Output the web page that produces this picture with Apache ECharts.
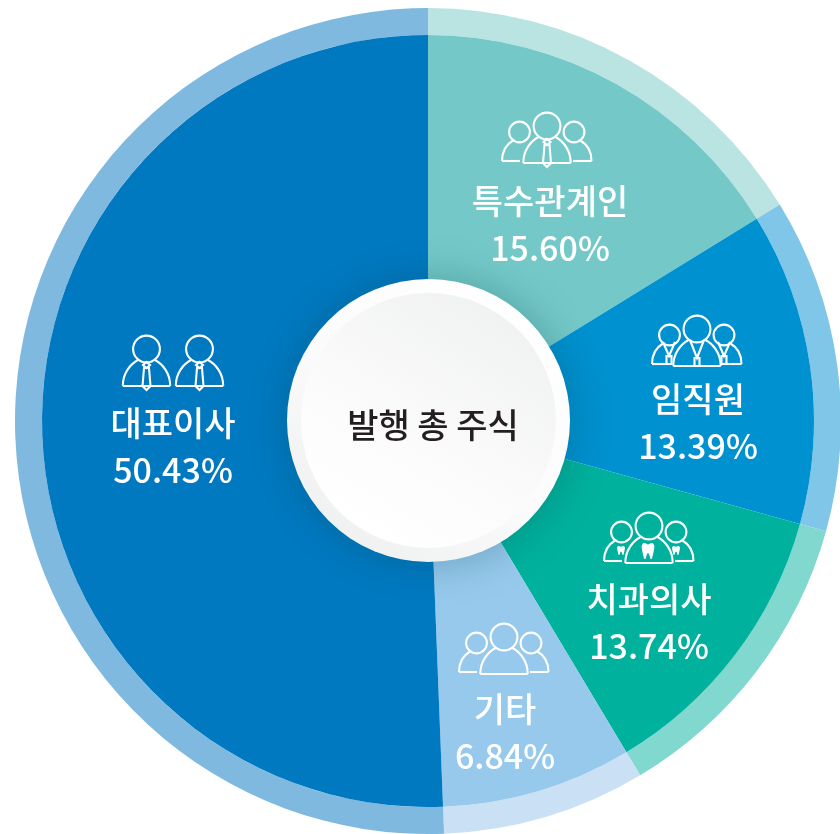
<!DOCTYPE html>
<html lang="ko">
<head>
<meta charset="utf-8">
<title>발행 총 주식</title>
<style>
  html, body { margin: 0; padding: 0; background: #fff; }
  #chart { width: 840px; height: 834px; }
</style>
</head>
<body>
<div id="chart"></div>
<script src="https://cdn.jsdelivr.net/npm/echarts@6/dist/echarts.min.js"></script>
<script>
const categories = ["특수관계인", "임직원", "치과의사", "기타", "대표이사"];
// printed figures
const percentLabels = ["15.60%", "13.39%", "13.74%", "6.84%", "50.43%"];
// slice sizes as the picture draws them, read off the boundary angles (not the printed figures)
const arcShares = [16.22, 13.08, 12.11, 7.97, 50.62];
const sliceColors = ["#74c9c8", "#0091d0", "#00b19d", "#96c9ec", "#0079c1"];
const ringColors = ["#b9e4e2", "#80c6e8", "#80d8ce", "#cae1f5", "#7fb9df"];
const iconKinds = ["tie3", "lanyard3", "tooth3", "plain3", "tie2"];

const FONT = '"Noto Sans CJK KR"';
const CX = 428, CY = 421;
// label centres and icon anchors (centre head) per slice
const labelSpots = [[550, 225], [698, 423], [649, 623], [505, 733], [173, 447]];
const iconSpots = [[547, 126], [697, 329], [649, 526], [504, 637], [173, 349]];
// tooth outline in a 0-1 box
const toothShape = [[0.12, 0], [0.3, 0.02], [0.5, 0.09], [0.7, 0.02], [0.88, 0], [1, 0.2], [0.93, 0.55], [0.8, 1], [0.68, 0.98], [0.58, 0.68], [0.5, 0.62], [0.42, 0.68], [0.32, 0.98], [0.2, 1], [0.07, 0.55], [0, 0.2]];

const line = { stroke: "#fff", fill: null, lineWidth: 2.1 };

function head(x, y, r) {
  return { type: "circle", z: 12, silent: true, shape: { cx: x, cy: y, r: r }, style: line };
}
function seg(x1, y1, x2, y2) {
  return { type: "line", z: 12, silent: true, shape: { x1, y1, x2, y2 }, style: line };
}
function curve(x1, y1, cx1, cy1, cx2, cy2, x2, y2) {
  return {
    type: "bezierCurve", z: 12, silent: true,
    shape: { x1, y1, cpx1: cx1, cpy1: cy1, cpx2: cx2, cpy2: cy2, x2, y2 },
    style: line
  };
}
function mainPerson(dx) {
  return [
    head(dx, 0, 13.4),
    curve(dx - 23.7, 37, dx - 23.7, 24, dx - 16, 15, dx - 8.5, 11),
    curve(dx + 23.7, 37, dx + 23.7, 24, dx + 16, 15, dx + 8.5, 11),
    seg(dx - 23.7, 37, dx + 23.7, 37)
  ];
}
function sidePeople() {
  return [
    head(-27.5, 6, 10.4),
    curve(-45, 35, -45, 25, -40, 18, -34, 14.5),
    seg(-45, 35, -27, 35),
    head(27, 6, 10.4),
    curve(44.5, 35, 44.5, 25, 39.5, 18, 33.5, 14.5),
    seg(26, 35, 44.5, 35)
  ];
}
function tie(dx) {
  return [
    { type: "polygon", z: 12, silent: true, shape: { points: [[dx, 13], [dx + 3.5, 16], [dx, 19], [dx - 3.5, 16]] }, style: line },
    { type: "polygon", z: 13, silent: true, shape: { points: [[dx - 2.5, 19], [dx + 2.5, 19], [dx + 4, 37], [dx, 41], [dx - 4, 37]] }, style: line }
  ];
}
function lanyard(dx, dy, w, top, h) {
  return [
    { type: "polyline", z: 12, silent: true, shape: { points: [[dx - w, dy + top], [dx, dy + h], [dx + w, dy + top]] }, style: line },
    { type: "rect", z: 12, silent: true, shape: { x: dx - 2.5, y: dy + h, width: 5, height: 8 }, style: line }
  ];
}
function tooth(dx, dy, w, h) {
  return {
    type: "polygon", z: 12, silent: true,
    shape: { points: toothShape.map(([a, b]) => [dx - w / 2 + a * w, dy + b * h]) },
    style: { fill: "#fff" }
  };
}
function buildIcon(kind) {
  if (kind === "tie2") {
    return [...mainPerson(-26.5), ...tie(-26.5), ...mainPerson(26.5), ...tie(26.5)];
  }
  let parts = [...mainPerson(0), ...sidePeople()];
  if (kind === "tie3") parts = parts.concat(tie(0));
  if (kind === "lanyard3") {
    parts = parts.concat(lanyard(0, 0, 7, 11, 29), lanyard(-28, 6, 6, 7, 21), lanyard(27, 6, 6, 7, 21));
  }
  if (kind === "tooth3") {
    parts = parts.concat(tooth(-1, 17, 13, 16), tooth(-28, 20, 8, 9), tooth(27, 20, 8, 9));
  }
  return parts;
}

const chart = echarts.init(document.getElementById("chart"));
chart.setOption({
  animation: false,
  backgroundColor: "#fff",
  series: [
    {
      type: "pie", silent: true, clockwise: true, startAngle: 90,
      center: [CX, CY], radius: [386, 413],
      label: { show: false },
      data: categories.map((name, i) => ({ name, value: arcShares[i], itemStyle: { color: ringColors[i] } }))
    },
    {
      type: "pie", silent: true, clockwise: true, startAngle: 90,
      center: [CX, CY], radius: [0, 386],
      label: {
        show: true, position: "inside", color: "#fff", fontFamily: FONT,
        formatter: (p) => `{n|${p.name}}\n{p|${percentLabels[p.dataIndex]}}`,
        rich: {
          n: { fontFamily: FONT, fontSize: 34, fontWeight: 500, color: "#fff", lineHeight: 47, align: "center" },
          p: { fontFamily: FONT, fontSize: 34, fontWeight: 500, color: "#fff", lineHeight: 47, align: "center" }
        }
      },
      labelLine: { show: false },
      labelLayout: (p) => ({
        x: labelSpots[p.dataIndex][0], y: labelSpots[p.dataIndex][1],
        align: "center", verticalAlign: "middle"
      }),
      data: categories.map((name, i) => ({ name, value: arcShares[i], itemStyle: { color: sliceColors[i] } }))
    }
  ],
  graphic: [
    {
      type: "circle", z: 10, silent: true,
      shape: { cx: 428.5, cy: 420.5, r: 141.5 },
      style: {
        fill: new echarts.graphic.LinearGradient(0.85, 0.05, 0.2, 0.95, [
          { offset: 0, color: "#ffffff" }, { offset: 0.55, color: "#fbfbfb" }, { offset: 1, color: "#eff0f0" }
        ]),
        shadowBlur: 45, shadowColor: "rgba(0,60,70,0.3)"
      }
    },
    {
      type: "circle", z: 11, silent: true,
      shape: { cx: 428.5, cy: 420.5, r: 127.5 },
      style: {
        fill: new echarts.graphic.LinearGradient(0.8, 0.05, 0.25, 0.95, [
          { offset: 0, color: "#f0f1f1" }, { offset: 0.6, color: "#fbfbfb" }, { offset: 1, color: "#ffffff" }
        ])
      }
    },
    {
      type: "text", z: 12, silent: true, x: 433, y: 425,
      style: {
        text: "발행 총 주식", fontFamily: FONT, fontSize: 34, fontWeight: 500,
        fill: "#231f20", align: "center", verticalAlign: "middle"
      }
    },
    ...iconKinds.map((kind, i) => ({
      type: "group", x: iconSpots[i][0], y: iconSpots[i][1], children: buildIcon(kind)
    }))
  ]
});
window.addEventListener("resize", () => chart.resize());
</script>
</body>
</html>
